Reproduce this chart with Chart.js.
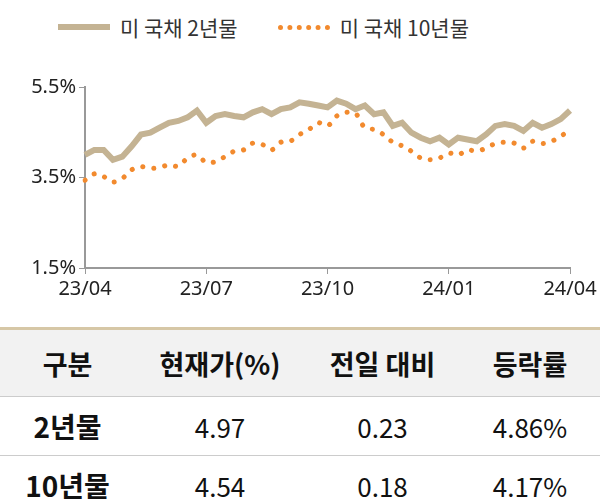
<!DOCTYPE html>
<html>
<head>
<meta charset="utf-8">
<script src="https://cdn.jsdelivr.net/npm/chart.js@4"></script>
<style>
  body { margin: 0; width: 600px; height: 504px; background: #fff; font-family: "Noto Sans CJK KR", "Noto Sans", sans-serif; overflow: hidden; }
  .legend { position: absolute; top: 12px; left: 58px; font-size: 21px; color: #333; display: flex; align-items: center; }
  .legend span.key { display: inline-block; width: 52px; margin-right: 10px; }
  .wrap { position: absolute; top: 72px; left: 0; width: 600px; height: 232px; }
  table { position: absolute; top: 327px; left: 0; width: 600px; border-collapse: collapse; border-top: 3px solid #d6c7a6; table-layout: fixed; }
  td, th { text-align: center; font-size: 26px; height: 56px; color: #111; }
  th { background: #f2f2f2; font-weight: 700; font-size: 27px; height: 64px; border-bottom: 1px solid #ccc; }
  tr.r td { border-bottom: 1px solid #ccc; }
  td.h { font-weight: 700; font-size: 28px; }
</style>
</head>
<body>
<div class="legend">
  <span class="key" style="border-top:6px solid #c4b393;"></span>미 국채 2년물
  <span class="key" style="margin-left:40px;border-top:5px dotted #f28a2e;"></span>미 국채 10년물
</div>
<div class="wrap"><canvas id="c"></canvas></div>
<table>
  <colgroup><col style="width:135px"><col style="width:170px"><col style="width:155px"><col style="width:140px"></colgroup>
  <tr><th>구분</th><th>현재가(%)</th><th>전일 대비</th><th>등락률</th></tr>
  <tr class="r"><td class="h">2년물</td><td>4.97</td><td>0.23</td><td>4.86%</td></tr>
  <tr><td class="h">10년물</td><td>4.54</td><td>0.18</td><td>4.17%</td></tr>
</table>
<script>
// weekly points, 23/04 -> 24/04
const tickLabels = { 0: '23/04', 13: '23/07', 26: '23/10', 39: '24/01', 52: '24/04' };
const yr2 = [4.00, 4.11, 4.11, 3.89, 3.96, 4.19, 4.45, 4.49, 4.60, 4.71, 4.75, 4.83, 4.98, 4.71,
  4.86, 4.90, 4.86, 4.83, 4.94, 5.01, 4.90, 5.01, 5.05, 5.16, 5.13, 5.09, 5.05, 5.20, 5.13, 5.01,
  5.09, 4.90, 4.94, 4.64, 4.71, 4.49, 4.38, 4.30, 4.38, 4.23, 4.38, 4.34, 4.30, 4.45, 4.64, 4.68,
  4.64, 4.53, 4.71, 4.60, 4.68, 4.79, 4.98];
const yr10 = [3.44, 3.58, 3.52, 3.40, 3.48, 3.67, 3.74, 3.70, 3.72, 3.78, 3.75, 3.93, 4.00, 3.83,
  3.85, 3.96, 4.08, 4.11, 4.26, 4.23, 4.11, 4.28, 4.30, 4.45, 4.56, 4.71, 4.64, 4.86, 4.94, 4.92,
  4.60, 4.56, 4.45, 4.28, 4.20, 4.08, 3.93, 3.89, 3.93, 4.04, 4.00, 4.11, 4.08, 4.15, 4.25, 4.28,
  4.26, 4.15, 4.30, 4.25, 4.30, 4.41, 4.56];
const labels = yr2.map((v, i) => i);

new Chart(document.getElementById('c'), {
    type: 'line',
    data: {
        labels: labels,
        datasets: [{
            data: yr2,
            borderColor: '#c4b393',
            borderWidth: 6,
            pointRadius: 0,
            tension: 0
        }, {
            data: yr10,
            borderColor: '#f28a2e',
            borderWidth: 5,
            borderDash: [0.1, 11],
            borderCapStyle: 'round',
            pointRadius: 0,
            tension: 0.3
        }]
    },
    options: {
        responsive: true,
        maintainAspectRatio: false,
        animation: false,
        layout: { padding: { right: 30, top: 6 } },
        plugins: { legend: { display: false }, tooltip: { enabled: false } },
        scales: {
            x: {
                offset: false,
                grid: { drawOnChartArea: false, tickLength: 6, color: '#999' },
                border: { color: '#999', width: 2 },
                ticks: {
                    autoSkip: false, maxRotation: 0, color: '#222',
                    font: { family: 'Noto Sans', size: 20 },
                    callback: function(v) { return tickLabels[v] || ''; }
                },
                afterTickToLabelConversion: function(s) {
                    s.ticks = s.ticks.filter(t => tickLabels[t.value] !== undefined);
                }
            },
            y: {
                min: 1.5, max: 5.5,
                afterFit: function(s) { s.width = 85; },
                grid: { drawOnChartArea: false, tickLength: 6, color: '#999' },
                border: { color: '#999', width: 2 },
                ticks: {
                    stepSize: 2, color: '#222',
                    font: { family: 'Noto Sans', size: 20 },
                    callback: function(v) { return v.toFixed(1) + '%'; }
                }
            }
        }
    }
});
</script>
</body>
</html>
